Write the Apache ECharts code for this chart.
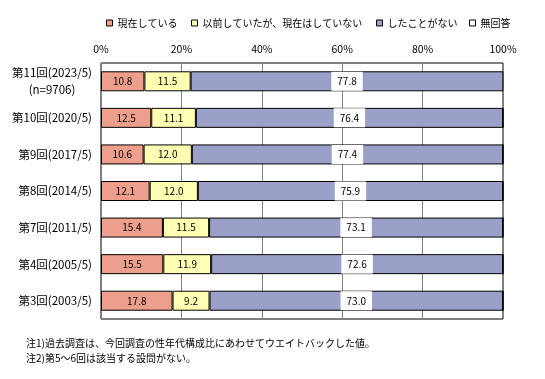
<!DOCTYPE html>
<html><head><meta charset="utf-8">
<script src="https://cdn.jsdelivr.net/npm/echarts@6/dist/echarts.min.js"></script>
<style>html,body{margin:0;padding:0;background:#fff}#c{width:545px;height:379px}</style>
</head><body><div id="c"></div>
<script>
var categories = ['第11回(2023/5)', '第10回(2020/5)', '第9回(2017/5)', '第8回(2014/5)', '第7回(2011/5)', '第4回(2005/5)', '第3回(2003/5)'];
var firstNote = '(n=9706)';
var seriesNames = ['現在している', '以前していたが、現在はしていない', 'したことがない', '無回答'];
var current = [10.8, 12.5, 10.6, 12.1, 15.4, 15.5, 17.8];
var before = [11.5, 11.1, 12.0, 12.0, 11.5, 11.9, 9.2];
var never = [77.8, 76.4, 77.4, 75.9, 73.1, 72.6, 73.0];
var noAnswer = [0, 0, 0, 0, 0, 0, 0];
var xTicks = [0, 20, 40, 60, 80, 100];
var notes = ['注1)過去調査は、今回調査の性年代構成比にあわせてウエイトバックした値。', '注2)第5～6回は該当する設問がない。'];

var FONT = '"Noto Sans CJK JP", sans-serif';
var colors = ['#EE9F8B', '#FFFFB3', '#9AA0C8', '#FFFFFF'];
var values = [current, before, never, noAnswer];
var legendLeft = [101, 186, 371, 464];

var chart = echarts.init(document.getElementById('c'));
var series = seriesNames.map(function (n, i) {
  var lbl = {show: i < 3, position: 'inside', color: '#000', fontSize: 10, fontFamily: FONT,
    formatter: function (p) { return p.value.toFixed(1); }};
  if (i === 2) { lbl.backgroundColor = '#fff'; lbl.padding = [5, 6, 4, 6]; }
  return {
    name: n, type: 'bar', stack: 'all', barWidth: 20,
    data: values[i],
    itemStyle: {color: colors[i], borderColor: '#000', borderWidth: 1},
    label: lbl, emphasis: {disabled: true}, animation: false
  };
});
chart.setOption({
  animation: false,
  textStyle: {fontFamily: FONT},
  legend: seriesNames.map(function (n, i) {
    return {data: [n], left: legendLeft[i], top: 13, itemWidth: 6, itemHeight: 6,
      itemStyle: {borderColor: '#000', borderWidth: 1},
      textStyle: {fontSize: 10, fontFamily: FONT, color: '#000'}, icon: 'rect', selectedMode: false};
  }),
  grid: {left: 101, right: 42, top: 63, bottom: 60, show: true, borderColor: '#000', borderWidth: 1, backgroundColor: 'transparent'},
  xAxis: {type: 'value', position: 'top', min: xTicks[0], max: xTicks[xTicks.length - 1], interval: xTicks[1] - xTicks[0],
    axisLine: {show: false}, axisTick: {show: false},
    axisLabel: {formatter: '{value}%', fontSize: 10.5, color: '#000', fontFamily: FONT, margin: 9},
    splitLine: {show: true, lineStyle: {color: '#808080', width: 1}}},
  yAxis: {type: 'category', inverse: true, data: categories,
    axisLine: {show: false}, axisTick: {show: false},
    axisLabel: {margin: 9, color: '#000', fontSize: 11.5, fontFamily: FONT,
      formatter: function (v, idx) { return idx === 0 ? '{a|' + v + '}\n{b|' + firstNote + '}' : v; },
      rich: {a: {fontSize: 11.5, fontFamily: FONT, color: '#000', lineHeight: 17},
             b: {fontSize: 11.5, fontFamily: FONT, color: '#000', align: 'center', lineHeight: 17}}}},
  series: series,
  graphic: notes.map(function (t, i) {
    return {type: 'text', left: 26, top: 338 + i * 15, style: {text: t, fontSize: 10, fontFamily: FONT, fill: '#000'}};
  })
});
</script></body></html>
